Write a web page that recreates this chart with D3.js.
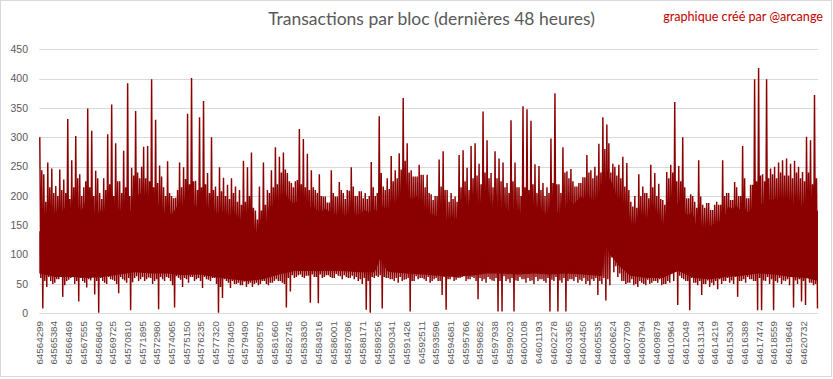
<!DOCTYPE html>
<html><head><meta charset="utf-8">
<script src="https://cdn.jsdelivr.net/npm/d3@7/dist/d3.min.js"></script>
<style>body{margin:0;background:#fff}svg{display:block}</style>
</head><body><svg id="c" width="833" height="379"></svg>
<script>
const chartTitle = "Transactions par bloc (dernières 48 heures)";
const creditText = "graphique créé par @arcange";
const blockLabels = ["64564299","64565384","64566469","64567555","64568640","64569725","64570810","64571895","64572980","64574065","64575150","64576235","64577320","64578405","64579490","64580575","64581660","64582745","64583830","64584916","64586001","64587086","64588171","64589256","64590341","64591426","64592511","64593596","64594681","64595766","64596852","64597938","64599023","64600108","64601193","64602278","64603365","64604450","64605535","64606624","64607709","64608794","64609879","64610964","64612049","64613134","64614219","64615304","64616389","64617474","64618559","64619646","64620732"];
const yTicks = [0,50,100,150,200,250,300,350,400,450];
const firstBlock = 64564299;
const blocksPerBin = 295;
// highest transaction count seen in each bin of blocks
const binMax = [300,237,257,247,217,245,228,331,261,302,237,215,349,311,243,205,230,305,356,290,
225,277,392,248,345,230,284,285,399,330,252,215,259,200,197,257,249,340,401,226,
334,362,239,300,216,249,231,219,230,216,210,260,249,274,175,216,257,210,244,283,
267,274,239,222,225,314,297,272,244,210,237,199,189,244,199,224,205,210,249,200,
208,196,195,258,200,336,216,230,268,244,273,367,290,244,233,253,236,236,203,200,
262,276,210,205,199,270,278,248,285,290,255,344,295,239,276,264,257,222,329,257,
215,353,348,328,254,251,222,215,298,375,220,283,242,246,216,222,232,270,244,250,
289,334,322,240,250,253,267,256,190,200,237,216,205,253,239,221,193,241,253,360,
251,300,196,203,190,261,185,188,176,185,185,261,205,193,224,200,285,196,219,399,
418,237,399,247,250,257,261,264,255,260,250,241,301,295,372];
// second highest peak in each bin
const binSecond = [244,190,215,205,200,210,205,195,215,230,
200,225,215,200,230,195,210,220,200,225,
205,215,200,235,240,250,230,225,215,222,
233,200,205,196,210,215,229,220,225,210,
215,220,205,210,200,208,200,195,205,190,
185,190,200,180,160,175,185,205,215,220,
240,245,225,215,227,220,215,210,215,205,
200,199,189,205,199,210,195,209,216,200,
208,205,200,215,205,239,210,212,225,230,
245,260,240,233,233,236,215,205,193,200,
216,210,190,195,190,215,225,210,230,235,
220,240,230,215,230,225,215,205,225,215,
200,215,210,220,205,210,200,205,222,220,
205,240,230,225,216,222,232,240,230,235,
240,280,290,255,235,230,216,210,182,180,
200,205,196,215,200,195,185,230,240,225,
225,215,196,200,180,199,180,188,176,190,
185,200,205,193,215,200,230,196,219,225,
235,225,230,237,230,240,235,235,230,240,
230,225,240,220,230];
// level below which each bin is densely filled (upper edge of the bulk of blocks)
const binUpper = [140,148,142,159,176,172,180,160,160,178,
172,190,186,165,170,176,172,170,176,174,
168,180,165,193,200,205,198,190,185,188,
180,170,168,172,182,180,185,188,185,182,
180,184,178,176,170,176,168,165,162,166,
158,150,160,147,125,137,140,182,178,186,
199,205,195,187,190,185,182,178,184,176,
172,178,174,170,168,172,166,170,174,168,
170,176,172,178,174,185,180,178,184,193,
200,215,199,195,200,182,176,170,168,165,
165,162,156,159,162,170,172,168,187,190,
185,192,182,178,184,182,176,174,180,172,
170,172,166,170,168,172,170,165,170,174,
168,172,187,184,190,199,195,200,193,190,
196,225,233,220,199,195,159,162,150,146,
152,159,156,162,148,150,146,180,190,187,
185,170,168,172,148,150,146,150,148,159,
156,162,182,178,184,176,180,172,176,190,
187,185,190,193,196,190,192,187,185,190,
184,182,186,180,175];
// second lowest value in each bin
const binLow2 = [60,55,62,50,58,62,48,57,63,55,
60,52,58,64,55,60,52,62,57,50,
62,56,60,53,63,58,55,61,50,58,
62,55,60,48,63,57,60,52,62,58,
55,62,57,60,50,45,58,52,55,50,
48,54,50,45,52,50,55,48,52,58,
55,50,60,65,62,66,60,64,66,62,
66,62,65,60,67,63,65,60,64,62,
58,60,55,62,64,65,62,60,58,60,
62,57,60,55,63,60,58,62,55,60,
55,62,58,63,57,60,64,58,62,55,
60,58,62,56,60,55,63,58,60,56,
62,58,60,56,62,58,55,60,57,62,
56,60,55,58,62,57,60,55,58,60,
55,60,58,95,80,68,55,52,58,50,
55,50,57,52,55,58,50,55,68,72,
64,58,55,60,52,55,50,56,52,55,
58,55,60,56,62,55,58,62,58,55,
60,56,62,58,55,60,56,58,62,56,
58,55,60,52,50];
// lowest transaction count seen in each bin of blocks
const binMin = [8,45,55,52,58,28,55,60,50,20,55,44,56,32,1,55,50,58,55,34,
58,52,5,60,55,62,58,60,55,7,58,62,55,10,60,45,58,62,55,60,
43,58,55,60,1,26,55,43,50,52,48,45,52,50,48,55,50,52,55,55,
52,10,37,60,65,62,64,18,62,17,60,65,62,60,64,58,62,60,58,55,
50,6,1,60,62,8,60,58,55,52,55,58,3,55,58,60,55,52,58,55,
31,6,58,55,60,62,55,58,60,24,55,52,58,55,3,3,55,52,3,55,
58,52,55,50,55,58,52,3,55,3,52,3,58,55,52,55,50,48,55,31,
50,22,48,70,62,55,50,52,48,45,52,48,50,55,52,48,50,52,55,14,
60,55,5,52,48,31,50,45,48,41,50,55,52,50,28,55,52,58,55,5,
5,55,50,5,52,50,55,48,10,50,20,14,52,48,8];
// lower edge of the bulk of blocks (by bin position)
const bandBins   = [0,4,8,12,16,20,24,28,32,36,40,44,48,52,56,60,64,68,72,76,80,84,85.5,87,88,92,96,100,104,108,112,116,120,124,128,132,136,140,141,141.5,143,145,148,152,156,160,164,168,172,176,180,184,188,192,195];
const bandBottom = [68,62,62,60,62,66,70,68,68,65,66,62,58,55,58,66,72,72,72,72,70,70,95,72,70,68,66,64,62,64,68,68,66,68,66,68,66,64,64,118,100,82,64,60,60,72,60,58,62,64,68,66,62,60,55];

const W = 833, H = 379;
const plot = {left: 39.3, right: 818, top: 49.3, bottom: 313.3};
const red = "#8B0000", grid = "#D9D9D9", txt = "#595959";
const font = "'Liberation Sans', Arial, sans-serif";
const svg = d3.select("#c");
const nBins = binMax.length;
const x = d3.scaleLinear().domain([firstBlock, firstBlock + nBins * blocksPerBin]).range([plot.left, plot.right]);
const y = d3.scaleLinear().domain([0, 450]).range([plot.bottom, plot.top]);

svg.append("rect").attr("x", 0.5).attr("y", 0.5).attr("width", 831).attr("height", 376)
  .attr("fill", "#fff").attr("stroke", grid);

// gridlines
svg.append("g").selectAll("line").data(yTicks).join("line")
  .attr("x1", plot.left).attr("x2", plot.right)
  .attr("y1", d => Math.round(y(d)) + 0.5).attr("y2", d => Math.round(y(d)) + 0.5)
  .attr("stroke", grid).attr("stroke-width", 1);

// y labels
svg.append("g").selectAll("text").data(yTicks).join("text")
  .attr("x", 28).attr("y", d => y(d)).attr("dy", "0.35em")
  .attr("text-anchor", "end").attr("font-family", font).attr("font-size", 10.5)
  .attr("fill", txt).text(d => d);

// x labels
svg.append("g").selectAll("text").data(blockLabels).join("text")
  .attr("transform", d => `translate(${x(+d)},321) rotate(-90)`)
  .attr("dy", "0.35em").attr("text-anchor", "end")
  .attr("font-family", font).attr("font-size", 9.8).attr("fill", txt).text(d => d);

// dense core: jagged upper edge per bin, lower edge along bandBottom
const core = [];
core.push([x(firstBlock), y(binUpper[0])]);
binUpper.forEach((v, i) => core.push([x(firstBlock + (i + 0.5) * blocksPerBin), y(v)]));
core.push([x(firstBlock + nBins * blocksPerBin), y(binUpper[nBins - 1])]);
for (let k = bandBins.length - 1; k >= 0; k--) core.push([x(firstBlock + bandBins[k] * blocksPerBin), y(bandBottom[k])]);
svg.append("path").attr("d", d3.line()(core) + "Z").attr("fill", red);

// the line series, swinging through each bin's extremes
const pts = [];
binMax.forEach((v, i) => {
  pts.push([x(firstBlock + (i + 0.125) * blocksPerBin), y(v)]);
  pts.push([x(firstBlock + (i + 0.375) * blocksPerBin), y(binLow2[i])]);
  pts.push([x(firstBlock + (i + 0.625) * blocksPerBin), y(binSecond[i])]);
  pts.push([x(firstBlock + (i + 0.875) * blocksPerBin), y(binMin[i])]);
});
svg.append("path").attr("d", d3.line()(pts)).attr("fill", "none")
  .attr("stroke", red).attr("stroke-width", 1.45).attr("stroke-linejoin", "miter");

// titles
function fit(sel, target) {
  const n = sel.node(); const fs = +sel.attr("font-size");
  const len = n.getComputedTextLength();
  if (len > 0) sel.attr("font-size", fs * target / len);
}
const t = svg.append("text").attr("x", 431.5).attr("y", 25).attr("text-anchor", "middle")
  .attr("font-family", "Lato, 'Open Sans', sans-serif").attr("font-size", 18).attr("fill", txt).text(chartTitle);
fit(t, 327);
const c = svg.append("text").attr("x", 823).attr("y", 21).attr("text-anchor", "end")
  .attr("font-family", "Lato, 'Open Sans', sans-serif").attr("font-size", 12).attr("fill", "#C00000").text(creditText);
fit(c, 160);
</script></body></html>
